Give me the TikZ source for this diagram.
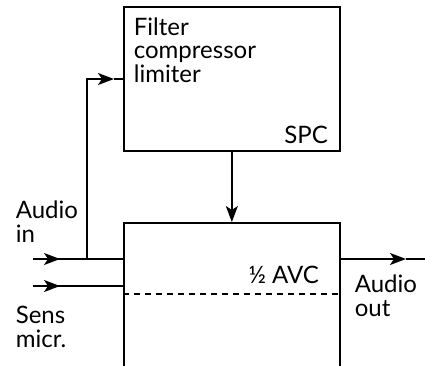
\documentclass[tikz,border=0pt]{standalone}
\usepackage{fontspec}
\setmainfont{Lato}
\usetikzlibrary{arrows.meta,positioning}

\begin{document}
\begin{tikzpicture}[x=1pt, y=-1pt, line width=1.7pt, blk/.style={draw, minimum width=216pt, minimum height=144pt, inner sep=0pt}, lbl/.style={font=\fontsize{24}{23.5}\selectfont, align=left, inner sep=0pt}, arr/.style={-{Stealth[length=16pt, width=12pt, inset=4pt]}}]
\clip (0,0) rectangle (425,365);
\node[blk, anchor=north west] (spc) at (123,6) {};
\node[blk, anchor=north west, minimum height=170pt] (avc) at (123,222) {};
\node[lbl, anchor=base west] (fcl) at ([shift={(10,76)}]spc.north west) {Filter\\compressor\\limiter};
\node[lbl, anchor=base east] (spclbl) at ([shift={(-12,-8)}]spc.south east) {SPC};
\node[lbl, anchor=base east] (avclbl) at ([shift={(-21,61)}]avc.north east) {½ AVC};
\node[lbl, anchor=base west] (audin) at (15,242) {Audio\\in};
\node[lbl, anchor=base west] (sens) at (15,347) {Sens\\micr.};
\node[lbl, anchor=base west] (audout) at (354,316) {Audio\\out};
\coordinate (ain) at (33,259);
\coordinate (sin) at (33,286);
\coordinate (tap) at (87,259);
\coordinate (fb) at (114,79);
\coordinate (aout) at (406,259);
% inputs
\draw[arr] (ain) -- ++(27,0);
\draw (ain) -- (avc.west |- ain);
\draw[arr] (sin) -- ++(27,0);
\draw (sin) -- (avc.west |- sin);
% feed to the filter block
\draw[arr] (tap) |- (fb);
\draw (fb) -- (spc.west |- fb);
\draw[arr] (spc.south) -- (avc.north);
% half AVC split
\draw[line width=1.3pt, dash pattern=on 6pt off 5pt] (avc.west |- 0,294) -- (avc.east |- 0,294);
% output
\draw[arr] (avc.east |- ain) -- (aout);
\draw (aout) -- (425,259);
\end{tikzpicture}
\end{document}
